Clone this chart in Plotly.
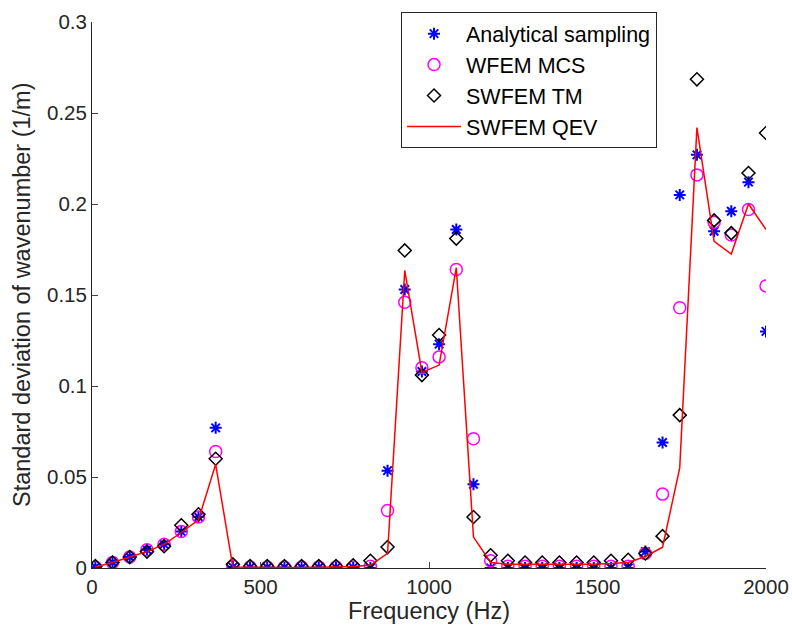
import plotly.graph_objects as go

freq = [10, 61, 112, 163, 214, 265, 316, 367, 418, 469, 520, 571, 622, 673, 724, 775,
        826, 877, 928, 979, 1030, 1081, 1132, 1183, 1234, 1285, 1336, 1387, 1438, 1489,
        1540, 1591, 1642, 1693, 1744, 1795, 1846, 1897, 1948, 2000]

analytical = [0.0005, 0.003, 0.006, 0.010, 0.013, 0.020, 0.028, 0.077, 0.0005, 0.0003,
              0.0003, 0.0003, 0.0003, 0.0003, 0.0003, 0.0003, 0.0, 0.0535, 0.153, 0.108,
              0.123, 0.186, 0.046, 0.0, 0.0, 0.0, 0.0, 0.0, 0.0, 0.0,
              0.0, 0.0, 0.009, 0.069, 0.205, 0.227, 0.185, 0.196, 0.212, 0.130]

wfem_mcs = [0.0005, 0.003, 0.006, 0.010, 0.013, 0.020, 0.028, 0.064, 0.001, 0.0005,
            0.0005, 0.0005, 0.0005, 0.0005, 0.0005, 0.0005, 0.001, 0.0316, 0.146, 0.110,
            0.116, 0.164, 0.071, 0.004, 0.001, 0.001, 0.001, 0.001, 0.001, 0.001,
            0.001, 0.001, 0.008, 0.0406, 0.143, 0.216, 0.190, 0.183, 0.197, 0.155]

swfem_tm = [0.001, 0.003, 0.006, 0.009, 0.012, 0.0235, 0.0295, 0.060, 0.002, 0.001,
            0.001, 0.001, 0.001, 0.001, 0.001, 0.0015, 0.004, 0.0115, 0.1745, 0.106,
            0.128, 0.181, 0.028, 0.007, 0.004, 0.003, 0.003, 0.003, 0.003, 0.003,
            0.004, 0.0045, 0.008, 0.0175, 0.084, 0.2685, 0.191, 0.184, 0.217, 0.239]

swfem_qev = [0.0005, 0.003, 0.006, 0.009, 0.013, 0.0195, 0.0265, 0.057, 0.0005, 0.0003,
             0.0003, 0.0003, 0.0003, 0.0003, 0.0005, 0.0008, 0.0015, 0.008, 0.1635, 0.1075,
             0.1115, 0.165, 0.017, 0.003, 0.002, 0.002, 0.002, 0.002, 0.002, 0.002,
             0.0025, 0.003, 0.0063, 0.0114, 0.055, 0.242, 0.1795, 0.1725, 0.200, 0.186]

y_ticks = [0, 0.05, 0.1, 0.15, 0.2, 0.25, 0.3]
y_tick_labels = ["0", "0.05", "0.1", "0.15", "0.2", "0.25", "0.3"]
x_ticks = [0, 500, 1000, 1500, 2000]

x_title = "Frequency (Hz)"
y_title = "Standard deviation of wavenumber (1/m)"

FONT = "Liberation Sans, Arial, sans-serif"

fig = go.Figure()
fig.add_trace(go.Scatter(x=freq, y=analytical, mode="markers", name="Analytical sampling",
                         marker=dict(symbol="asterisk-open", size=10, color="#0000ff",
                                     line=dict(color="#0000ff", width=2))))
fig.add_trace(go.Scatter(x=freq, y=wfem_mcs, mode="markers", name="WFEM MCS",
                         marker=dict(symbol="circle-open", size=12, color="#ff00ff",
                                     line=dict(color="#ff00ff", width=1.5))))
fig.add_trace(go.Scatter(x=freq, y=swfem_tm, mode="markers", name="SWFEM TM",
                         marker=dict(symbol="diamond-open", size=10, color="#000000",
                                     line=dict(color="#000000", width=1.5))))
fig.add_trace(go.Scatter(x=freq, y=swfem_qev, mode="lines", name="SWFEM QEV",
                         line=dict(color="#ff0000", width=1.5)))

fig.update_layout(
    width=792, height=639,
    margin=dict(l=92, r=26, t=16, b=71),
    paper_bgcolor="white", plot_bgcolor="white",
    font=dict(family=FONT, size=20.5, color="#262626"),
    showlegend=True,
    legend=dict(x=0.4585, y=1.018, xanchor="left", yanchor="top",
                bgcolor="white", bordercolor="#262626", borderwidth=1,
                font=dict(family=FONT, size=21.5, color="#000000"),
                tracegroupgap=0, itemwidth=54),
    xaxis=dict(range=[0, 2000], tickvals=x_ticks, ticks="inside", ticklen=6,
               showline=True, linecolor="#262626", linewidth=1, mirror=False,
               showgrid=False, zeroline=False, automargin=False,
               title=dict(text=x_title, font=dict(size=23.5), standoff=2)),
    yaxis=dict(range=[0, 0.3], tickvals=y_ticks, ticktext=y_tick_labels,
               ticks="inside", ticklen=6,
               showline=True, linecolor="#262626", linewidth=1, mirror=False,
               showgrid=False, zeroline=False, automargin=False),
    annotations=[dict(text=y_title, xref="paper", yref="paper", x=0, y=0.5,
                      xanchor="center", yanchor="middle", xshift=-70, textangle=-90,
                      showarrow=False, font=dict(family=FONT, size=23.5, color="#262626"))],
)

# remove the page's default 8px body margin so the figure fills the window exactly
fig.write_html("out.html", config={"displayModeBar": False},
               post_script="document.body.style.margin='0px';document.body.style.overflow='hidden';")
